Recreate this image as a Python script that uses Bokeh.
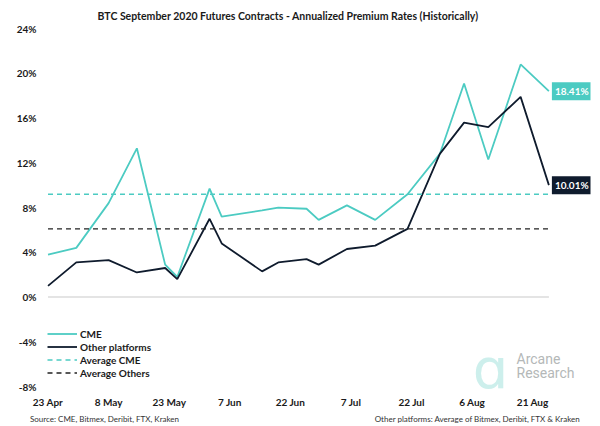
import pandas as pd
from bokeh.plotting import figure
from bokeh.models import (FixedTicker, DatetimeTickFormatter, Label, Legend,
                          LegendItem, ColumnDataSource, Range1d, LinearAxis)
from bokeh.embed import file_html
from bokeh.resources import INLINE

# ---------------- data ----------------
dates = ["2020-04-23", "2020-04-30", "2020-05-08", "2020-05-15", "2020-05-22",
         "2020-05-25", "2020-06-02", "2020-06-05", "2020-06-15", "2020-06-19",
         "2020-06-26", "2020-06-29", "2020-07-06", "2020-07-13", "2020-07-21",
         "2020-07-29", "2020-08-04", "2020-08-10", "2020-08-18", "2020-08-25"]
cme = [3.8, 4.4, 8.4, 13.3, 2.9, 1.8, 9.7, 7.2, 7.75, 8.0,
       7.9, 6.9, 8.2, 6.9, 9.2, 12.8, 19.1, 12.3, 20.8, 18.41]
others = [1.0, 3.1, 3.3, 2.2, 2.6, 1.6, 7.0, 4.8, 2.3, 3.1,
          3.4, 2.9, 4.3, 4.6, 6.1, 12.8, 15.6, 15.2, 17.9, 10.01]
avg_cme = 9.2
avg_others = 6.1
x_tick_dates = ["2020-04-23", "2020-05-08", "2020-05-23", "2020-06-07", "2020-06-22",
                "2020-07-07", "2020-07-22", "2020-08-06", "2020-08-21"]
y_ticks = [-8, -4, 0, 4, 8, 12, 16, 20, 24]

TEAL = "#4ccbc2"
NAVY = "#0f1b2d"
FONT = "Lato"

dt = pd.to_datetime(dates)
src = ColumnDataSource(dict(x=dt, cme=cme, others=others))

x0 = dt[0] - pd.Timedelta(days=1.86)
x1 = dt[0] + pd.Timedelta(days=134.3)

p = figure(width=600, height=426, x_axis_type="datetime",
           x_range=Range1d(x0, x1), y_range=Range1d(-8.53, 24.55),
           output_backend="svg", toolbar_location=None,
           min_border_left=40, min_border_right=10, min_border_top=22,
           min_border_bottom=34)
p.outline_line_color = None
p.grid.visible = False
p.background_fill_color = "white"

p.title.text = "BTC September 2020 Futures Contracts - Annualized Premium Rates (Historically)"
p.title.align = "left"
p.title.offset = 57
p.title.standoff = 1
p.title.text_font = FONT
p.title.text_font_size = "10.5px"
p.title.text_font_style = "bold"
p.title.text_color = "#1a1a1a"

# axes
p.xaxis.ticker = FixedTicker(ticks=[pd.Timestamp(d).value / 1e6 for d in x_tick_dates])
p.xaxis.formatter = DatetimeTickFormatter(days="%-d %b", months="%-d %b", hours="%-d %b",
                                          years="%-d %b")
p.yaxis.ticker = FixedTicker(ticks=y_ticks)
p.yaxis.major_label_overrides = {t: f"{t}%" for t in y_ticks}
for ax in (p.xaxis, p.yaxis):
    ax.axis_line_color = None
    ax.major_tick_line_color = None
    ax.minor_tick_line_color = None
    ax.major_tick_out = 0
    ax.major_tick_in = 0
    ax.minor_tick_out = 0
    ax.minor_tick_in = 0
    ax.major_label_text_font = FONT
    ax.major_label_text_font_style = "bold"
    ax.major_label_text_color = "#1a1a1a"
    ax.major_label_text_font_size = "10px"
p.xaxis.major_label_standoff = 3
p.yaxis.major_label_standoff = 4

# footnote row: an extra axis whose range spans the frame in pixels
foot_ticks = [104, 477]
foot_texts = ["Source: CME, Bitmex, Deribit, FTX, Kraken",
              "Other platforms: Average of Bitmex, Deribit, FTX & Kraken"]
p.extra_x_ranges = {"px": Range1d(40, 590)}
fax = LinearAxis(x_range_name="px", ticker=FixedTicker(ticks=foot_ticks),
                 major_label_overrides=dict(zip(foot_ticks, foot_texts)))
fax.axis_line_color = None
fax.major_tick_line_color = None
fax.minor_tick_line_color = None
fax.major_tick_out = 0
fax.major_tick_in = 0
fax.minor_tick_out = 0
fax.major_label_standoff = 3
fax.major_label_text_font = FONT
fax.major_label_text_font_size = "8px"
fax.major_label_text_color = "#333333"
p.add_layout(fax, "below")

# zero line
p.line(x=[dt[0], dt[-1]], y=[0, 0], line_color="#e4e4e4", line_width=2)

r_cme = p.line("x", "cme", source=src, line_color=TEAL, line_width=1.8)
r_oth = p.line("x", "others", source=src, line_color=NAVY, line_width=1.8)
r_acme = p.line(x=[dt[0], dt[-1]], y=[avg_cme, avg_cme], line_color=TEAL,
                line_width=1.4, line_dash="5 4")
r_aoth = p.line(x=[dt[0], dt[-1]], y=[avg_others, avg_others], line_color="#222222",
                line_width=1.4, line_dash="5 4")

legend = Legend(items=[LegendItem(label="CME", renderers=[r_cme]),
                       LegendItem(label="Other platforms", renderers=[r_oth]),
                       LegendItem(label="Average CME", renderers=[r_acme]),
                       LegendItem(label="Average Others", renderers=[r_aoth])],
                location=(7, 13), glyph_width=30, glyph_height=13, label_height=13,
                spacing=0, padding=0, margin=0, label_standoff=3,
                label_text_font=FONT, label_text_font_style="bold",
                label_text_font_size="10px", label_text_color="#1a1a1a",
                background_fill_alpha=0, border_line_color=None)
p.add_layout(legend)

# end labels
p.add_layout(Label(x=dt[-1], y=cme[-1], text=f"{cme[-1]:.2f}%", x_offset=3,
                   text_baseline="middle", text_color="white", text_font=FONT,
                   text_font_size="10px", text_font_style="bold",
                   background_fill_color=TEAL, padding=3))
p.add_layout(Label(x=dt[-1], y=others[-1], text=f"{others[-1]:.2f}%", x_offset=3,
                   text_baseline="middle", text_color="white", text_font=FONT,
                   text_font_size="10px", text_font_style="bold",
                   background_fill_color=NAVY, padding=3))

# logo (inside frame; screen units relative to frame bottom-left)
p.add_layout(Label(x=450, y=24, x_units="screen", y_units="screen", text="ɑ",
                   text_align="center", text_baseline="middle", text_font="DejaVu Sans",
                   text_font_size="56px", text_color="#cdefec"))
p.add_layout(Label(x=476, y=34, x_units="screen", y_units="screen", text="Arcane",
                   text_baseline="middle", text_font="Roboto", text_font_size="14px",
                   text_color="#b4b8b8"))
p.add_layout(Label(x=476, y=20, x_units="screen", y_units="screen", text="Research",
                   text_baseline="middle", text_font="Roboto", text_font_size="14px",
                   text_color="#b4b8b8"))

open("out.html", "w").write(file_html(p, INLINE))
